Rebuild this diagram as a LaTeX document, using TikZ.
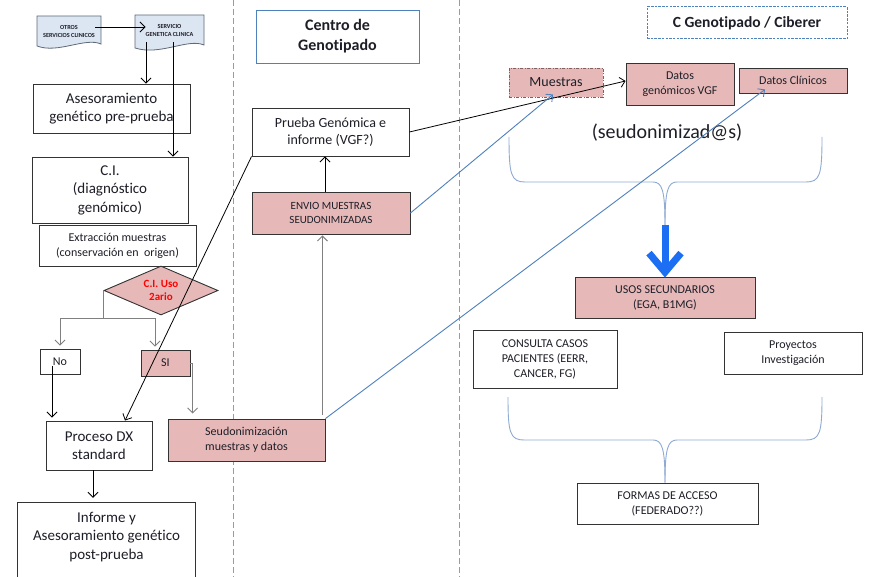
\documentclass[tikz,border=0pt]{standalone}
\usepackage{fontspec}
\setmainfont{Carlito}[Ligatures=NoCommon]
\usetikzlibrary{arrows.meta,shapes.geometric}

\definecolor{pinkfill}{HTML}{E6B9B8}
\definecolor{docfill}{HTML}{DCE6F2}
\definecolor{docline}{HTML}{5F6B7A}
\definecolor{divider}{HTML}{7F9ED2}
\definecolor{bluelink}{HTML}{4F81BD}
\definecolor{bigblue}{HTML}{1C6EF2}
\definecolor{graylink}{HTML}{808080}
\definecolor{bracecol}{HTML}{8FAAD3}
\definecolor{txt}{HTML}{1E1E28}
\definecolor{dashred}{HTML}{7F6060}

\tikzset{
  wh/.style 2 args={minimum width=#1pt, minimum height=#2pt},
  box/.style={draw=black!80, line width=0.9pt, fill=white, align=center,
              inner sep=1pt, text=txt},
  pbox/.style={box, fill=pinkfill},
  f11/.style={font=\fontsize{11}{13.5}\selectfont},
  f12/.style={font=\fontsize{12}{15}\selectfont},
  f14/.style={font=\fontsize{14}{17.5}\selectfont},
  f15/.style={font=\fontsize{15}{18.5}\selectfont},
  doctext/.style={font=\bfseries\fontsize{6.2}{8}\selectfont, align=center,
                  text=txt, inner sep=0pt},
  docshape/.style={draw=docline, fill=docfill, line width=0.8pt},
  barb/.style={-{Straight Barb[length=5pt,width=10pt]}},
  arr/.style={barb, draw=black, line width=0.8pt},
  garr/.style={barb, draw=graylink, line width=0.9pt},
  gline/.style={draw=graylink, line width=0.9pt},
  barr/.style={barb, draw=bluelink, line width=0.9pt},
  lane/.style={draw=divider, line width=0.9pt, dash pattern=on 6pt off 3pt},
  bracket/.style={draw=bracecol, line width=0.9pt},
}

\begin{document}
\begin{tikzpicture}[x=1pt, y=-1pt]
\fill[white] (0,0) rectangle (872,577);
\useasboundingbox (0,0) rectangle (872,577);

% lane separators
\draw[lane] (233,0) -- (233,577);
\draw[lane] (459,0) -- (459,577);

% ---------- clinical services lane ----------
\draw[docshape] (37,16) -- (101,16) -- (101,44)
  .. controls (85,37) and (58,54) .. (37,46) -- cycle;
\node[doctext] (otros) at (69,31) {OTROS\\SERVICIOS CLINICOS};
\draw[docshape] (135,15) -- (204,15) -- (204,45)
  .. controls (188,38) and (160,56) .. (135,48) -- cycle;
\node[doctext] (servicio) at (169.5,30) {SERVICIO\\GENETICA CLINICA};

\node[box, wh={157}{49}, f15] (asesor) at (111.5,108.5) {Asesoramiento\\genético pre-prueba};
\node[box, wh={156}{66}, f15] (ci) at (110,190) {C.I.\\(diagnóstico\\genómico)};
\node[box, wh={157}{41}, f12] (extr) at (117.5,245.5) {Extracción muestras\\(conservación en\ \ origen)};
\node[diamond, draw=black!80, line width=0.9pt, fill=pinkfill, aspect=2.33,
      minimum width=114pt, minimum height=49pt, inner sep=0pt, align=center,
      text=red, font=\bfseries\fontsize{11}{13.5}\selectfont] (dia) at (161,290.5) {C.I. Uso\\2ario};
\node[box, wh={40}{25}, f12] (no) at (60,361.5) {No};
\node[pbox, wh={49}{26}, f12] (si) at (165.5,363) {SI};
\node[box, wh={106}{49}, f15] (proceso) at (99,445.5) {Proceso DX\\standard};
\node[align=center, text=txt, f15, wh={177}{68}, inner sep=0pt] (informe) at (106.5,537)
  {Informe y\\Asesoramiento genético\\post-prueba};
\draw[black!80, line width=0.9pt] ([yshift=-10pt]informe.south west) |- (informe.north)
  -| ([yshift=-10pt]informe.south east);

% ---------- genotyping centre lane ----------
\node[box, draw=bluelink, wh={163}{53}, font=\bfseries\fontsize{16}{20}\selectfont] (centro) at (337.5,36.5) {Centro de\\Genotipado};
\node[box, wh={157}{48}, f14] (prueba) at (330.5,132) {Prueba Genómica e\\informe (VGF?)};
\node[pbox, wh={158}{42}, f11] (envio) at (331,213) {ENVIO MUESTRAS\\SEUDONIMIZADAS};
\node[pbox, wh={157}{42}, f12] (seud) at (246.5,440) {Seudonimización\\muestras y datos};

% ---------- C Genotipado / Ciberer lane ----------
\node[box, draw=bluelink, line width=1pt, dash pattern=on 2.5pt off 1.2pt, wh={200}{32},
      font=\bfseries\fontsize{15.5}{19}\selectfont] (cgen) at (747,23) {C Genotipado / Ciberer};
\node[pbox, draw=dashred, dash pattern=on 3pt off 1.5pt on 1pt off 1.5pt, wh={94}{29}, f14] (muestras) at (556,82.5) {Muestras};
\node[pbox, wh={108}{42}, f12] (datosg) at (680,84) {Datos\\genómicos VGF};
\node[pbox, wh={108}{25}, f12] (datosc) at (793,80.5) {Datos Clínicos};
\node[text=txt, font=\fontsize{20}{24}\selectfont, inner sep=0pt] (seudo) at (667,133) {(seudonimizad@s)};
\node[pbox, wh={180}{41}, f12] (usos) at (665,297.5) {USOS SECUNDARIOS\\(EGA, B1MG)};
\node[box, wh={144}{58}, f12] (consulta) at (545,359) {CONSULTA CASOS\\PACIENTES (EERR,\\CANCER, FG)};
\node[box, wh={138}{42}, f12] (proyectos) at (793,353) {Proyectos\\Investigación};
\node[box, wh={181}{41}, f12] (formas) at (667.5,503.5) {FORMAS DE ACCESO\\(FEDERADO??)};

% braces grouping the pseudonymised data and the access modes
\coordinate (brace1) at (665,225);
\draw[bracket] (509,137) .. controls (509,175) and (511,182) .. (525,182) -- (653,182)
  .. controls (662,182) and (665,190) .. (brace1);
\draw[bracket] (822,137) .. controls (822,175) and (820,182) .. (806,182) -- (677,182)
  .. controls (668,182) and (665,190) .. (brace1);
\coordinate (brace2) at ([xshift=-2.5pt]formas.north);
\draw[bracket] (508,397) .. controls (508,433) and (510,440) .. (524,440) -- (653,440)
  .. controls (662,440) and (665,448) .. (brace2);
\draw[bracket] (822,397) .. controls (822,433) and (820,440) .. (806,440) -- (677,440)
  .. controls (668,440) and (665,448) .. (brace2);
\draw[bigblue, line width=7pt, -{Straight Barb[length=19pt,width=32pt]}] (brace1) -- ([yshift=-1pt]usos.north);

% ---------- connectors ----------
\draw[arr] ([yshift=4pt]otros.east) -- ([yshift=4pt]otros.east -| servicio.west);
\draw[arr] ([xshift=-23.5pt,yshift=-6pt]servicio.south) -- ([xshift=-23.5pt]servicio.south |- asesor.north);
\draw[arr] ([xshift=3.5pt,yshift=-6pt]servicio.south) -- ([xshift=3.5pt]servicio.south |- ci.north);
\coordinate (split) at (dia.west |- 0,318);
\draw[gline] (dia.west) -- (split);
\draw[garr, shorten >=3pt] (split) -| (no.north);
\draw[garr, shorten >=3pt] (split) -| ([xshift=-10.5pt]si.north);
\draw[arr, shorten >=3pt] ([xshift=-8pt,yshift=8pt]no.south) -- ([xshift=-8pt]no.south |- proceso.north);
\draw[arr] (prueba.south west) -- ([xshift=26pt]proceso.north);
\draw[garr, shorten >=5pt] (si.east) -| ([xshift=25pt]seud.north west);
\draw[arr, shorten >=5pt] ([xshift=-6pt]proceso.south) -- ([xshift=-6pt]proceso.south |- informe.north);
\draw[arr] ([xshift=-6pt]envio.north) -- ([xshift=-6pt]envio.north |- prueba.south);
\draw[garr, shorten >=1pt] ([xshift=-3pt,yshift=4pt]seud.north east) -- ([xshift=-3pt]seud.north east |- envio.south);
\draw[arr] (prueba.east) -- ([yshift=3pt]datosg.west);
\draw[barr] (envio.east) -- ([xshift=-3pt,yshift=3pt]muestras.south);
\draw[barr] (seud.north east) -- ([xshift=-28pt,yshift=4pt]datosc.south);
\end{tikzpicture}
\end{document}
